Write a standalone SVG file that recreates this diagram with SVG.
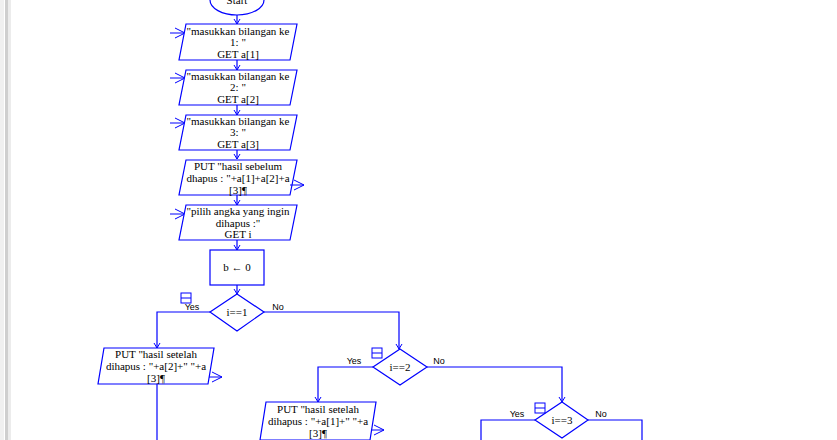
<svg xmlns="http://www.w3.org/2000/svg" width="837" height="440" viewBox="0 0 837 440">
<defs>
<marker id="ah" markerWidth="8" markerHeight="8" refX="6" refY="4" orient="auto" markerUnits="userSpaceOnUse"><path d="M1,1 L6,4 L1,7" fill="none" stroke="#0000ff" stroke-width="1"/></marker>
<marker id="big" markerWidth="14" markerHeight="14" refX="12" refY="7" orient="auto" markerUnits="userSpaceOnUse"><path d="M2,2 L12,7 L2,12" fill="none" stroke="#0000ff" stroke-width="1"/></marker>
</defs>
<style>
.s{fill:#fff;stroke:#0000ff;stroke-width:1.2}
.c{fill:none;stroke:#0000ff;stroke-width:1.2}
.t{font-family:"Liberation Serif",serif;font-size:11px;fill:#000;text-anchor:middle}
.l{font-family:"Liberation Sans",sans-serif;font-size:9px;fill:#000;text-anchor:middle}
.io{fill:none;stroke:#0000ff;stroke-width:1}
</style>
<rect width="837" height="440" fill="#fff"/>
<rect x="0" y="0" width="4" height="440" fill="#f0f0f0"/>
<rect x="5" y="0" width="3" height="440" fill="#cfcfcf"/>
<rect x="8" y="0" width="3" height="440" fill="#ececec"/>
<g id="connectors">
<line class="c" x1="237" y1="15" x2="237" y2="24" marker-end="url(#ah)"/>
<line class="c" x1="237" y1="60" x2="237" y2="70" marker-end="url(#ah)"/>
<line class="c" x1="237" y1="105" x2="237" y2="115" marker-end="url(#ah)"/>
<line class="c" x1="237" y1="150" x2="237" y2="159" marker-end="url(#ah)"/>
<line class="c" x1="237" y1="195" x2="237" y2="205" marker-end="url(#ah)"/>
<line class="c" x1="237" y1="240" x2="237" y2="250" marker-end="url(#ah)"/>
<line class="c" x1="237" y1="285" x2="237" y2="294" marker-end="url(#ah)"/>
<polyline class="c" points="210,312 157,312 157,348" marker-end="url(#ah)"/>
<polyline class="c" points="264,312 399,312 399,349" marker-end="url(#ah)"/>
<polyline class="c" points="373,367 318,367 318,402" marker-end="url(#ah)"/>
<polyline class="c" points="427,367 562,367 562,402" marker-end="url(#ah)"/>
<polyline class="c" points="535,420 481,420 481,440"/>
<polyline class="c" points="588,420 642,420 642,440"/>
<line class="c" x1="157" y1="384" x2="157" y2="440"/>
<line class="c" x1="318" y1="438" x2="318" y2="440"/>
<text class="l" x="192" y="310">Yes</text><text class="l" x="278" y="310">No</text>
<text class="l" x="354" y="364">Yes</text><text class="l" x="439" y="364">No</text>
<text class="l" x="517" y="417">Yes</text><text class="l" x="601" y="417">No</text>
</g>
<g id="start"><ellipse class="s" cx="237" cy="0" rx="27" ry="15"/><text class="t" x="237" y="4">Start</text></g>
<g id="in1"><line class="io" x1="170" y1="33" x2="185" y2="33" marker-end="url(#big)"/><polygon class="s" points="186,24 297,24 290,60 179,60"/>
<text class="t" x="238" y="35">"masukkan bilangan ke</text><text class="t" x="238" y="46">1: "</text><text class="t" x="238" y="58">GET a[1]</text></g>
<g id="in2"><line class="io" x1="170" y1="78" x2="185" y2="78" marker-end="url(#big)"/><polygon class="s" points="186,70 297,70 290,105 179,105"/>
<text class="t" x="238" y="80">"masukkan bilangan ke</text><text class="t" x="238" y="91">2: "</text><text class="t" x="238" y="103">GET a[2]</text></g>
<g id="in3"><line class="io" x1="170" y1="123" x2="185" y2="123" marker-end="url(#big)"/><polygon class="s" points="186,115 297,115 290,150 179,150"/>
<text class="t" x="238" y="125">"masukkan bilangan ke</text><text class="t" x="238" y="136">3: "</text><text class="t" x="238" y="148">GET a[3]</text></g>
<g id="out0"><polygon class="s" points="186,160 297,160 290,195 179,195"/><line class="io" x1="290" y1="185" x2="304" y2="185" marker-end="url(#big)"/>
<text class="t" x="238" y="170">PUT "hasil sebelum</text><text class="t" x="238" y="182">dhapus : "+a[1]+a[2]+a</text><text class="t" x="238" y="194">[3]¶</text></g>
<g id="in4"><line class="io" x1="170" y1="214" x2="185" y2="214" marker-end="url(#big)"/><polygon class="s" points="186,205 297,205 290,240 179,240"/>
<text class="t" x="238" y="215">"pilih angka yang ingin</text><text class="t" x="238" y="227">dihapus :"</text><text class="t" x="238" y="238">GET i</text></g>
<g id="assign"><rect class="s" x="210" y="250" width="54" height="35"/><text class="t" x="237" y="271">b ← 0</text></g>
<g id="d1"><polygon class="s" points="237,294 264,312 237,331 210,312"/><text class="t" x="237" y="316">i==1</text>
<rect class="io" x="181" y="293" width="10" height="10"/><line class="io" x1="181" y1="298" x2="191" y2="298"/></g>
<g id="out1"><polygon class="s" points="104,348 214,348 208,384 98,384"/><line class="io" x1="209" y1="377" x2="222" y2="377" marker-end="url(#big)"/>
<text class="t" x="156" y="358">PUT "hasil setelah</text><text class="t" x="156" y="370">dihapus : "+a[2]+" "+a</text><text class="t" x="156" y="382">[3]¶</text></g>
<g id="d2"><polygon class="s" points="400,349 427,367 400,385 373,367"/><text class="t" x="400" y="371">i==2</text>
<rect class="io" x="372" y="348" width="10" height="10"/><line class="io" x1="372" y1="353" x2="382" y2="353"/></g>
<g id="out2"><polygon class="s" points="266,402 376,402 370,440 260,440"/><line class="io" x1="371" y1="430" x2="384" y2="430" marker-end="url(#big)"/>
<text class="t" x="318" y="413">PUT "hasil setelah</text><text class="t" x="318" y="425">dihapus : "+a[1]+" "+a</text><text class="t" x="318" y="437">[3]¶</text></g>
<g id="d3"><polygon class="s" points="562,402 588,420 562,438 535,420"/><text class="t" x="562" y="424">i==3</text>
<rect class="io" x="535" y="403" width="10" height="10"/><line class="io" x1="535" y1="408" x2="545" y2="408"/></g>
</svg>
